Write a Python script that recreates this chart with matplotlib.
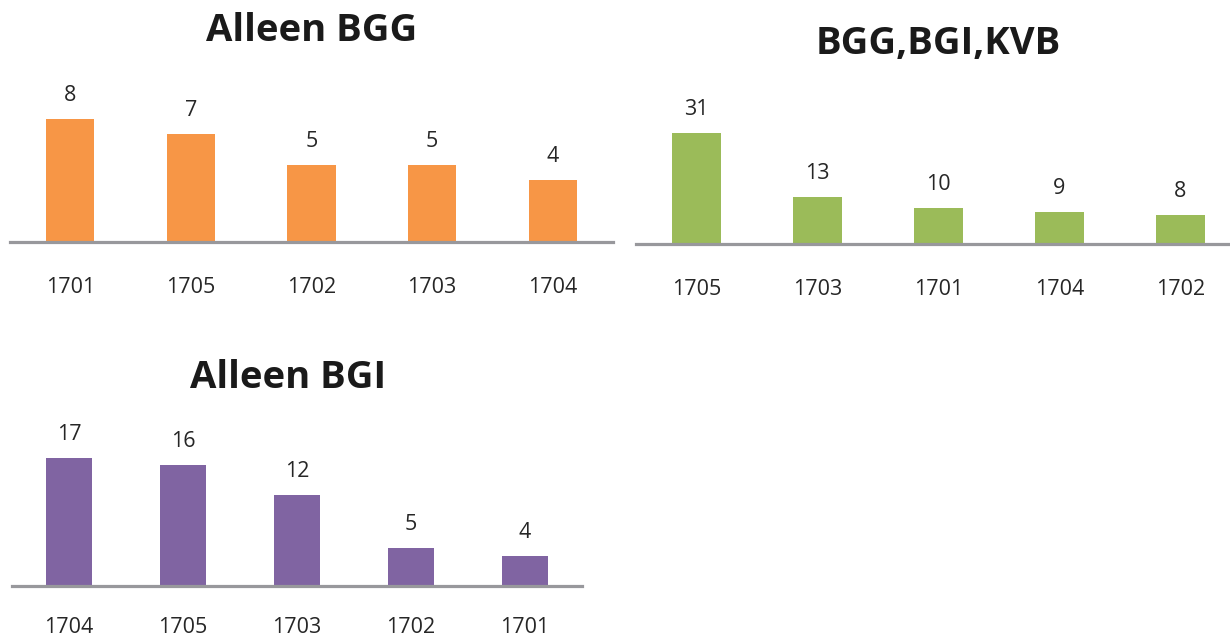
import matplotlib
matplotlib.use('Agg')
import matplotlib.pyplot as plt

# data
bgg_years = ['1701', '1705', '1702', '1703', '1704']
bgg_counts = [8, 7, 5, 5, 4]

combo_years = ['1705', '1703', '1701', '1704', '1702']
combo_counts = [31, 13, 10, 9, 8]

bgi_years = ['1704', '1705', '1703', '1702', '1701']
bgi_counts = [17, 16, 12, 5, 4]

W, H = 1230, 639
plt.rcParams['font.family'] = ['Open Sans', 'DejaVu Sans']

fig = plt.figure(figsize=(W / 100, H / 100), dpi=100)
fig.patch.set_facecolor('white')


def panel(left, baseline, width, px_per_unit, ymax, years, counts, color,
          title, title_x, title_y, tick_pad=25):
    # all positions given in pixels from the top-left corner
    height = ymax * px_per_unit
    ax = fig.add_axes([left / W, (H - baseline) / H, width / W, height / H])
    x = range(len(years))
    bars = ax.bar(x, counts, width=0.4, color=color, edgecolor='none', zorder=2)
    ax.set_xlim(-0.5, len(years) - 0.5)
    ax.set_ylim(0, ymax)
    ax.set_xticks(list(x))
    ax.set_xticklabels(years, fontsize=15.5, color='#262626')
    ax.tick_params(axis='x', length=0, pad=tick_pad)
    ax.set_yticks([])
    for s in ['top', 'right', 'left']:
        ax.spines[s].set_visible(False)
    ax.spines['bottom'].set_color('#98989c')
    ax.spines['bottom'].set_linewidth(2.3)
    ax.patch.set_alpha(0)
    for b, v in zip(bars, counts):
        ax.annotate(str(v), (b.get_x() + b.get_width() / 2, v),
                    xytext=(0, 17), textcoords='offset points',
                    ha='center', va='center', fontsize=15.5, color='#262626')
    fig.text(title_x / W, 1 - title_y / H, title, ha='center', va='center',
             fontsize=27.5, fontweight='bold', color='#1a1a1a')
    return ax


panel(10, 242, 603, 15.4, 9, bgg_years, bgg_counts, '#F79646',
      'Alleen BGG', 312, 31)
panel(636, 244, 605, 3.58, 35, combo_years, combo_counts, '#9BBB59',
      'BGG,BGI,KVB', 938, 44)
panel(12, 586, 570, 7.55, 19, bgi_years, bgi_counts, '#8064A2',
      'Alleen BGI', 288, 378, tick_pad=22)

fig.savefig('out.png', dpi=100)
